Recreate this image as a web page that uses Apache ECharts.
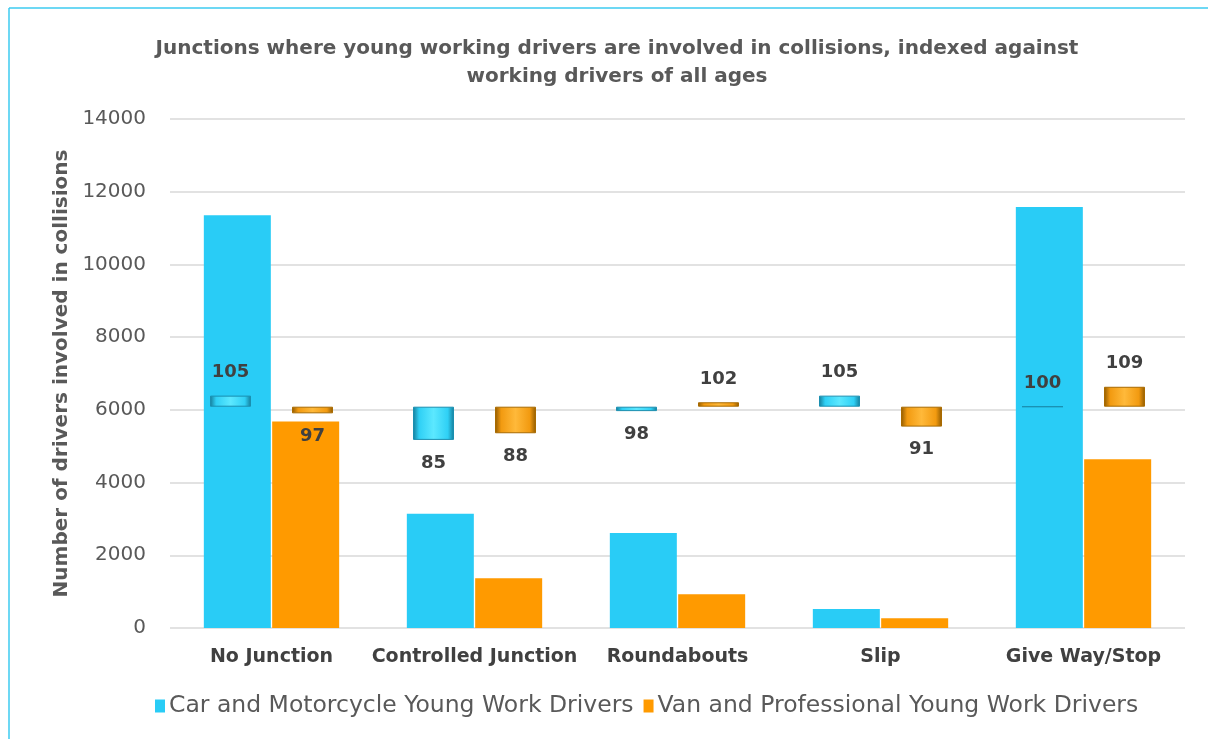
<!DOCTYPE html>
<html>
<head>
<meta charset="utf-8">
<script src="https://cdn.jsdelivr.net/npm/echarts@6/dist/echarts.min.js"></script>
<style>
html,body{margin:0;padding:0;background:#fff;}
#c{width:1208px;height:739px;}
</style>
</head>
<body>
<div id="c"></div>
<script>
const categories = ['No Junction', 'Controlled Junction', 'Roundabouts', 'Slip', 'Give Way/Stop'];
const carCounts = [11350, 3140, 2610, 520, 11580];
const vanCounts = [5680, 1370, 930, 270, 4640];
const carIndex = [105, 85, 98, 105, 100];
const vanIndex = [97, 88, 102, 91, 109];
const yTicks = [0, 2000, 4000, 6000, 8000, 10000, 12000, 14000];
const seriesNames = ['Car and Motorcycle Young Work Drivers', 'Van and Professional Young Work Drivers'];

const FONT = 'DejaVu Sans';
const CYAN = '#29CCF6';
const ORANGE = '#FF9A00';

function bevel(mid, light, dark) {
  return new echarts.graphic.LinearGradient(0, 0, 1, 0, [
    {offset: 0, color: dark}, {offset: 0.15, color: mid}, {offset: 0.5, color: light},
    {offset: 0.85, color: mid}, {offset: 1, color: dark}
  ]);
}
const cyanBevel = bevel('#2FD0F5', '#5CE8FF', '#157C99');
const orangeBevel = bevel('#F29A10', '#FFB93A', '#8F5A00');

function baseData(idx) { return idx.map(v => Math.min(v, 100)); }
function deltaData(idx) {
  return idx.map(v => ({
    value: Math.abs(v - 100),
    idx: v,
    label: {position: v >= 100 ? 'top' : 'bottom'}
  }));
}
const idxLabel = {
  show: true, distance: 14, fontFamily: FONT, fontWeight: 'bold', fontSize: 18, color: '#404040',
  formatter: p => String(p.data.idx)
};

const chart = echarts.init(document.getElementById('c'), null, {renderer: 'canvas'});
chart.setOption({
  animation: false,
  backgroundColor: '#fff',
  title: {
    text: 'Junctions where young working drivers are involved in collisions, indexed against\nworking drivers of all ages',
    left: 612, top: 30, textAlign: 'center',
    textStyle: {fontFamily: FONT, fontWeight: 'bold', fontSize: 20, color: '#595959', lineHeight: 28}
  },
  graphic: [
    {type: 'line', shape: {x1: 9, y1: 8, x2: 1208, y2: 8}, style: {stroke: '#3CCBF0', lineWidth: 1.5}, silent: true},
    {type: 'line', shape: {x1: 9, y1: 8, x2: 9, y2: 739}, style: {stroke: '#3CCBF0', lineWidth: 1.5}, silent: true}
  ],
  legend: {
    data: seriesNames,
    left: 150, top: 689,
    itemWidth: 10, itemHeight: 13, itemGap: 10,
    icon: 'rect',
    textStyle: {fontFamily: FONT, fontSize: 23.5, color: '#595959', padding: [0, 0, 0, -1]}
  },
  grid: {left: 170, right: 23, top: 119, bottom: 111, containLabel: false},
  xAxis: [
    {
      type: 'category', data: categories,
      axisLine: {show: false}, axisTick: {show: false},
      axisLabel: {fontFamily: FONT, fontWeight: 'bold', fontSize: 19, color: '#404040', margin: 20, interval: 0}
    },
    {type: 'category', data: categories, show: false}
  ],
  yAxis: [
    {
      type: 'value', min: 0, max: 14000, interval: 2000,
      name: 'Number of drivers involved in collisions',
      nameLocation: 'middle', nameGap: 98, nameRotate: 90,
      nameTextStyle: {fontFamily: FONT, fontWeight: 'bold', fontSize: 20, color: '#595959'},
      axisLine: {show: false}, axisTick: {show: false},
      axisLabel: {fontFamily: FONT, fontSize: 20, color: '#595959', margin: 24,
        formatter: v => yTicks.indexOf(v) >= 0 ? String(v) : ''},
      splitLine: {lineStyle: {color: '#D9D9D9', width: 1.5}}
    },
    {type: 'value', min: 0, max: 230, show: false, splitLine: {show: false}}
  ],
  series: [
    {name: seriesNames[0], type: 'bar', data: carCounts, barWidth: 67, barGap: '2%',
      itemStyle: {color: CYAN}, z: 2},
    {name: seriesNames[1], type: 'bar', data: vanCounts, barWidth: 67, barGap: '2%',
      itemStyle: {color: ORANGE}, z: 2},
    {name: 'carBase', type: 'bar', xAxisIndex: 1, yAxisIndex: 1, stack: 'ci', data: baseData(carIndex),
      barWidth: 41, itemStyle: {color: 'rgba(0,0,0,0)'}, silent: true, z: 3},
    {name: 'carIdx', type: 'bar', xAxisIndex: 1, yAxisIndex: 1, stack: 'ci', data: deltaData(carIndex),
      barWidth: 41, itemStyle: {color: cyanBevel, borderColor: '#1A8FB0', borderWidth: 1}, label: idxLabel, z: 4},
    {name: 'vanBase', type: 'bar', xAxisIndex: 1, yAxisIndex: 1, stack: 'vi', data: baseData(vanIndex),
      barWidth: 41, itemStyle: {color: 'rgba(0,0,0,0)'}, silent: true, z: 3},
    {name: 'vanIdx', type: 'bar', xAxisIndex: 1, yAxisIndex: 1, stack: 'vi', data: deltaData(vanIndex),
      barWidth: 41, barGap: '100%', itemStyle: {color: orangeBevel, borderColor: '#A86A00', borderWidth: 1}, label: idxLabel, z: 4}
  ]
});
</script>
</body>
</html>
